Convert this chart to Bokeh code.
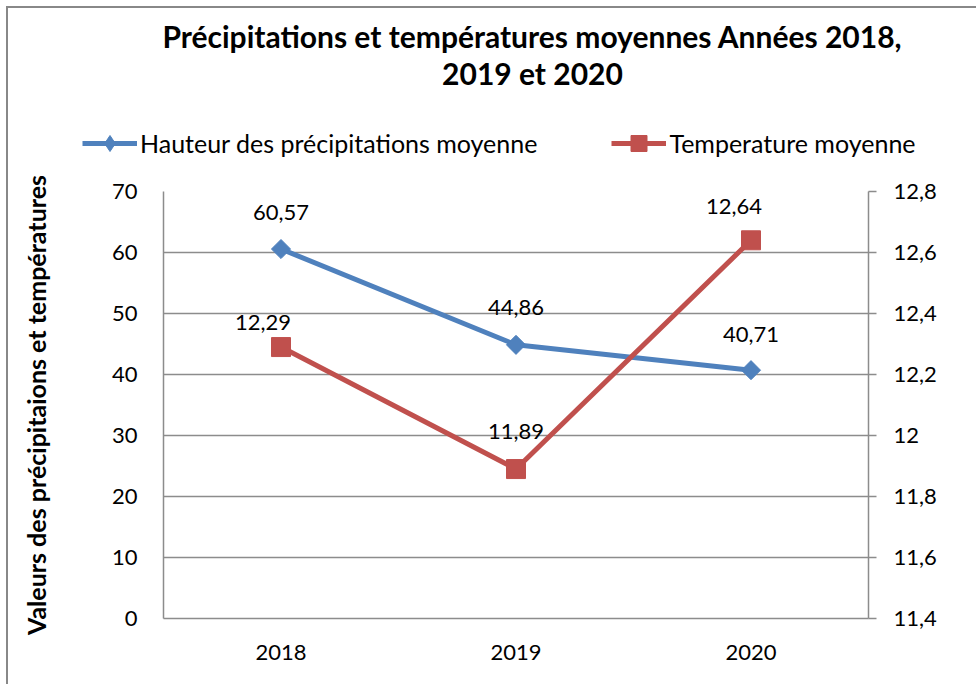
import math
import numpy as np
from bokeh.plotting import figure
from bokeh.models import (ColumnDataSource, Range1d, LinearAxis, FixedTicker,
                          CustomJSTickFormatter, LabelSet, Label, Legend, LegendItem,
                          FactorRange)
from bokeh.core.properties import value
from bokeh.embed import file_html
from bokeh.resources import INLINE

# ---- data ----
years = ["2018", "2019", "2020"]
precip = [60.57, 44.86, 40.71]
temp = [12.29, 11.89, 12.64]
left_ticks = [0, 10, 20, 30, 40, 50, 60, 70]
right_ticks = [11.4, 11.6, 11.8, 12.0, 12.2, 12.4, 12.6, 12.8]
title_lines = ["Précipitations et températures moyennes Années 2018,", "2019 et 2020"]
y_label = "Valeurs des précipitaions et températures"
precip_name = "Hauteur des précipitations moyenne"
temp_name = "Temperature moyenne"

# ---- styles ----
BLUE = "#4F81BD"
RED = "#C0504D"
GRID = "#8C8C8C"
FONT = "Lato"
W = 970
HEAD_H = 170
MAIN_H = 508
BORDER = "2px solid #888888"
LW = 5


def fr(v):
    return f"{v:.2f}".replace(".", ",")


# ================= header: title + legend =================
head = figure(width=W, height=HEAD_H, x_axis_type=None, y_axis_type=None,
              output_backend="svg", toolbar_location=None, min_border=0,
              x_range=Range1d(0, 1), y_range=Range1d(0, 1))
head.margin = (6, 0, 0, 6)
head.styles = {"border-top": BORDER, "border-left": BORDER}
head.outline_line_color = None
head.grid.visible = False
head.background_fill_color = "white"
head.border_fill_color = "white"

# legend-only proxies (no visible data)
proxy_a = ColumnDataSource(dict(x=np.array([np.nan, np.nan]), y=np.array([np.nan, np.nan])))
proxy_b = ColumnDataSource(dict(x=np.array([np.nan, np.nan]), y=np.array([np.nan, np.nan])))
hl1 = head.line("x", "y", source=proxy_a, line_color=BLUE, line_width=LW)
hm1 = head.scatter("x", "y", source=proxy_a, marker="diamond", fill_color=BLUE, line_color=BLUE)
hl2 = head.line("x", "y", source=proxy_b, line_color=RED, line_width=LW)
hm2 = head.scatter("x", "y", source=proxy_b, marker="square", fill_color=RED, line_color=RED)

legend = Legend(items=[LegendItem(label=precip_name, renderers=[hl1, hm1]),
                       LegendItem(label=temp_name, renderers=[hl2, hm2])],
                orientation="horizontal", location=(74, 15),
                glyph_width=55, glyph_height=40, label_standoff=3,
                padding=0, margin=0, spacing=74, border_line_color=None,
                background_fill_alpha=0, label_text_font=FONT, label_text_font_size="25px",
                label_text_color="#000000", label_text_baseline="middle")
head.add_layout(legend)

for txt, yy in zip(title_lines, [143, 106]):
    head.add_layout(Label(x=524, y=yy, x_units="screen", y_units="screen", text=txt,
                          text_align="center", text_baseline="middle", text_font=FONT,
                          text_font_style="bold", text_font_size="30px",
                          text_color="#000000"))

# ================= main plot =================
p = figure(width=W, height=MAIN_H, x_range=FactorRange(*years), y_range=Range1d(0, 70),
           output_backend="svg", toolbar_location=None,
           min_border_left=155, min_border_right=110, min_border_top=15, min_border_bottom=66)
p.margin = (0, 0, 0, 6)
p.styles = {"border-left": BORDER}
p.extra_y_ranges = {"temp": Range1d(11.4, 12.8)}
p.outline_line_color = None
p.background_fill_color = "white"
p.border_fill_color = "white"

# left axis
ya = p.yaxis[0]
ya.ticker = FixedTicker(ticks=left_ticks)
ya.major_tick_out = 0
ya.major_tick_in = 0
ya.minor_tick_out = 0
ya.minor_tick_in = 0
ya.axis_line_color = GRID
ya.axis_line_width = 1.5
ya.major_label_text_font = FONT
ya.major_label_text_font_size = "22px"
ya.major_label_text_color = "#000000"
ya.major_label_standoff = 26
ya.axis_label = y_label
ya.axis_label_text_font = FONT
ya.axis_label_text_font_style = "bold"
ya.axis_label_text_font_size = "25px"
ya.axis_label_text_color = "#000000"
ya.axis_label_standoff = 58

# right axis
ra = LinearAxis(y_range_name="temp", ticker=FixedTicker(ticks=right_ticks),
                formatter=CustomJSTickFormatter(code="""
                    var s = (Math.round(tick*10)/10).toString();
                    return s.replace('.', ',');
                """))
ra.major_tick_out = 8
ra.major_tick_in = 0
ra.minor_tick_out = 0
ra.minor_tick_in = 0
ra.major_tick_line_color = GRID
ra.major_tick_line_width = 1.5
ra.axis_line_color = GRID
ra.axis_line_width = 1.5
ra.major_label_text_font = FONT
ra.major_label_text_font_size = "22px"
ra.major_label_text_color = "#000000"
ra.major_label_standoff = 17
p.add_layout(ra, "right")

# x axis
xa = p.xaxis[0]
xa.major_tick_out = 0
xa.major_tick_in = 0
xa.axis_line_color = GRID
xa.axis_line_width = 1.5
xa.major_label_text_font = FONT
xa.major_label_text_font_size = "22px"
xa.major_label_text_color = "#000000"
xa.major_label_standoff = 26

p.ygrid.ticker = FixedTicker(ticks=left_ticks)
p.ygrid.grid_line_color = GRID
p.ygrid.grid_line_width = 1.5
p.xgrid.grid_line_color = None

src = ColumnDataSource(dict(
    x=years, precip=precip, temp=temp,
    ptxt=[fr(v) for v in precip], ttxt=[fr(v) for v in temp],
    px=[0, 0, 0], py=[37, 37, 36], tx=[-18, 0, -17], ty=[25, 38, 34],
))

p.line("x", "precip", source=src, line_color=BLUE, line_width=LW)
p.scatter("x", "precip", source=src, marker="square", angle=math.pi / 4, size=13.5,
          fill_color=BLUE, line_color=BLUE)
p.line("x", "temp", source=src, y_range_name="temp", line_color=RED, line_width=LW)
p.scatter("x", "temp", source=src, y_range_name="temp", marker="square", size=19,
          fill_color=RED, line_color=RED)

for yname, col, txt, xo, yo in [("default", "precip", "ptxt", "px", "py"),
                                ("temp", "temp", "ttxt", "tx", "ty")]:
    p.add_layout(LabelSet(x="x", y=col, text=txt, source=src, y_range_name=yname,
                          x_offset=xo, y_offset=yo,
                          text_align="center", text_baseline="middle",
                          text_font=value(FONT), text_font_size=value("22px"),
                          text_color="#000000"))

open("out.html", "w").write(file_html([head, p], INLINE))
